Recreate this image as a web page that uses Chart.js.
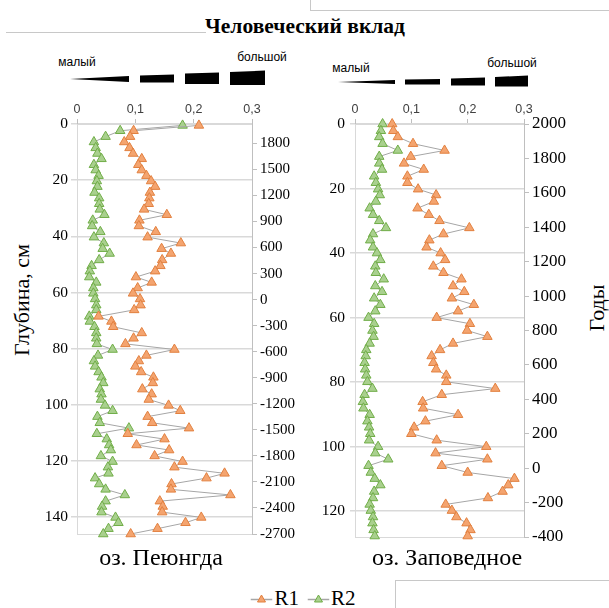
<!DOCTYPE html>
<html>
<head>
<meta charset="utf-8">
<script src="https://cdn.jsdelivr.net/npm/chart.js@4.4.0/dist/chart.umd.min.js"></script>
<style>
  body { margin: 0; background: #fff; }
  #page { position: relative; width: 609px; height: 608px; overflow: hidden; font-family: "Liberation Serif", "Times New Roman", serif; color: #000; }
  .abs { position: absolute; white-space: nowrap; }
  .serif { font-family: "Liberation Serif", "Times New Roman", serif; }
  .sans { font-family: "Liberation Sans", Arial, sans-serif; }
  .hline { position: absolute; height: 1px; background: #c8c8c8; }
  .vline { position: absolute; width: 1px; background: #c8c8c8; }
  canvas { position: absolute; }
</style>
</head>
<body>
<div id="page">
  <!-- page leftovers around the figure -->
  <div class="hline" style="left:6px; top:32px; width:200px;"></div>
  <div class="vline" style="left:310px; top:0; height:10px;"></div>
  <div class="hline" style="left:310px; top:10px; width:299px;"></div>
  <div class="hline" style="left:395px; top:580px; width:214px;"></div>
  <div class="vline" style="left:395px; top:580px; height:28px;"></div>

  <div class="abs serif" style="left:305px; top:26px; transform:translate(-50%,-50%); font-size:21.5px; font-weight:bold;">Человеческий вклад</div>

  <div class="abs sans" style="left:77px; top:62px; transform:translate(-50%,-50%); font-size:12px;">малый</div>
  <div class="abs sans" style="left:262px; top:57px; transform:translate(-50%,-50%); font-size:12px;">большой</div>
  <div class="abs sans" style="left:351px; top:68px; transform:translate(-50%,-50%); font-size:12px;">малый</div>
  <div class="abs sans" style="left:512px; top:63px; transform:translate(-50%,-50%); font-size:12px;">большой</div>

  <svg class="abs" style="left:0; top:0;" width="609" height="100">
    <g fill="#000">
      <polygon points="70,79 129,76 129,82"/>
      <polygon points="140,75.5 174,74.5 174,82.5 140,82.5"/>
      <polygon points="185,73.5 219,72.5 219,84 185,84"/>
      <polygon points="230,72 265,70.5 265,85 230,85"/>
      <polygon points="338,82 395,80 395,84"/>
      <polygon points="405,79.5 440,79 440,84.5 405,84.5"/>
      <polygon points="451,78.5 485,77.5 485,85.5 451,85.5"/>
      <polygon points="495,77 528,75.5 528,86.5 495,86.5"/>
    </g>
  </svg>

  <div class="abs serif" style="left:22px; top:300px; transform:translate(-50%,-50%) rotate(-90deg); font-size:22px;">Глубина, см</div>
  <div class="abs serif" style="left:597px; top:308px; transform:translate(-50%,-50%) rotate(-90deg); font-size:22px;">Годы</div>

  <canvas id="chartLeft" width="305" height="455" style="left:0; top:95px;"></canvas>
  <canvas id="chartRight" width="304" height="470" style="left:305px; top:95px;"></canvas>

  <div class="abs serif" style="left:161px; top:557px; transform:translate(-50%,-50%); font-size:24px;">оз. Пеюнгда</div>
  <div class="abs serif" style="left:447px; top:557px; transform:translate(-50%,-50%); font-size:24px;">оз. Заповедное</div>

  <div id="legend" class="abs serif" style="left:303px; top:598px; transform:translate(-50%,-50%); font-size:21px; display:flex; align-items:center;"></div>
</div>

<script>
// ---- data ----
const xTickLabels = ['0', '0,1', '0,2', '0,3'];
const seriesNames = ['R1', 'R2'];

// оз. Пеюнгда
const depthPeyungda = [0.5, 2.4, 4.5, 6.4, 8.5, 10.5, 12.4, 14.5, 16.4, 18.4, 20.3, 22.3, 24.4, 26.4, 28.4, 30.4, 32.3, 34.3, 36.3, 38.4, 40.3, 42.4, 44.4, 46.1,
  48.4, 50.5, 52.4, 54.5, 56.4, 58.4, 60.3, 62.3, 64.5, 66.2, 68.5, 70.3, 72.2, 74.4, 76.3, 78.3, 80.3, 82.4, 84.4, 86.3, 88.3, 90.2, 92.2, 94.4, 96.2,
  98.1, 100.2, 102.1, 104.2, 106.4, 108.3, 110.3, 112.2, 114.3, 116.1, 118.2, 120.2, 122.2, 124.4, 126.1, 128.2, 130.1, 132.1, 134.3, 136.2, 138.2, 140.1, 142.0, 144.1, 146.0];
const r1Peyungda = [0.209, 0.097, 0.091, 0.081, 0.090, 0.096, 0.111, 0.105, 0.111, 0.119, 0.127, 0.134, 0.125, 0.124, 0.123, 0.115, 0.154, 0.107, 0.106, 0.135, 0.121, 0.178, 0.145, 0.161,
  0.146, 0.143, 0.134, 0.101, 0.128, 0.104, 0.096, 0.108, 0.109, 0.098, 0.037, 0.059, 0.062, 0.111, 0.097, 0.083, 0.167, 0.119, 0.106, 0.100, 0.110, 0.131, 0.130, 0.112, 0.128,
  0.123, 0.157, 0.177, 0.121, 0.129, 0.192, 0.087, 0.150, 0.102, 0.158, 0.133, 0.181, 0.167, 0.253, 0.222, 0.162, 0.161, 0.263, 0.142, 0.147, 0.146, 0.213, 0.186, 0.138, 0.092];
const r2Peyungda = [0.181, 0.074, 0.049, 0.029, 0.032, 0.035, 0.042, 0.029, 0.032, 0.037, 0.034, 0.035, 0.030, 0.038, 0.038, 0.039, 0.047, 0.027, 0.026, 0.040, 0.029, 0.046, 0.044, 0.056,
  0.038, 0.025, 0.022, 0.021, 0.033, 0.028, 0.028, 0.031, 0.033, 0.033, 0.021, 0.022, 0.030, 0.033, 0.033, 0.034, 0.061, 0.036, 0.029, 0.031, 0.037, 0.042, 0.045, 0.039, 0.042,
  0.041, 0.048, 0.061, 0.035, 0.039, 0.089, 0.034, 0.051, 0.055, 0.058, 0.041, 0.061, 0.053, 0.054, 0.031, 0.038, 0.049, 0.082, 0.049, 0.043, 0.042, 0.066, 0.071, 0.054, 0.045];
const yearTicksPeyungda = [1800, 1500, 1200, 900, 600, 300, 0, -300, -600, -900, -1200, -1500, -1800, -2100, -2400, -2700];

// оз. Заповедное
const depthZapovednoe = [0, 2.1, 4.0, 6.1, 8.2, 10.1, 12.2, 14.1, 16.2, 18.2, 20.2, 22.0, 24.0, 26.1, 28.1, 30.0, 32.2, 34.1, 36.0, 38.2, 40.0,
  42.1, 44.1, 46.1, 48.1, 50.2, 52.0, 54.0, 56.0, 58.0, 60.0, 61.9, 64.0, 65.9, 68.0, 70.0, 71.9, 74.0, 76.0, 77.9, 79.9, 82.0, 83.9,
  86.1, 88.1, 90.1, 92.1, 94.0, 96.0, 98.0, 100.0, 102.0, 103.9, 105.9, 108.0, 109.9, 111.9, 113.9, 115.9, 117.9, 119.8, 121.8, 123.7, 125.8, 127.7];
const r1Zapovednoe = [0.066, 0.068, 0.076, 0.103, 0.159, 0.099, 0.087, 0.122, 0.093, 0.093, 0.112, 0.144, 0.140, 0.111, 0.131, 0.150, 0.203, 0.157, 0.132, 0.127, 0.152,
  0.160, 0.139, 0.157, 0.189, 0.174, 0.194, 0.172, 0.211, 0.183, 0.145, 0.204, 0.199, 0.235, 0.174, 0.151, 0.136, 0.139, 0.144, 0.162, 0.162, 0.249, 0.154,
  0.120, 0.121, 0.183, 0.125, 0.105, 0.100, 0.145, 0.233, 0.143, 0.235, 0.154, 0.200, 0.283, 0.272, 0.262, 0.236, 0.161, 0.172, 0.180, 0.198, 0.205, 0.200];
const r2Zapovednoe = [0.049, 0.046, 0.043, 0.049, 0.076, 0.043, 0.043, 0.048, 0.034, 0.037, 0.041, 0.044, 0.037, 0.026, 0.032, 0.043, 0.055, 0.032, 0.027, 0.032, 0.039,
  0.045, 0.036, 0.037, 0.051, 0.036, 0.048, 0.034, 0.045, 0.036, 0.024, 0.034, 0.031, 0.033, 0.026, 0.020, 0.019, 0.017, 0.018, 0.020, 0.022, 0.031, 0.017,
  0.014, 0.015, 0.026, 0.022, 0.025, 0.027, 0.025, 0.041, 0.036, 0.059, 0.024, 0.028, 0.035, 0.045, 0.034, 0.032, 0.026, 0.028, 0.032, 0.031, 0.033, 0.035];
const yearTicksZapovednoe = [2000, 1800, 1600, 1400, 1200, 1000, 800, 600, 400, 200, 0, -200, -400];

// ---- styles ----
const orangeFill = '#f4a46f', orangeEdge = '#e2803f';
const greenFill = '#a9d08e', greenEdge = '#70ad47';
const lineGray = '#a6a6a6';
const gridGray = '#d9d9d9';
const serifFont = '"Liberation Serif", "Times New Roman", serif';
const sansFont = '"Liberation Sans", Arial, sans-serif';

Chart.defaults.animation = false;
Chart.defaults.devicePixelRatio = 1;

// bottom edge of the plot frame
const frameLine = {
  id: 'frameLine',
  beforeDatasetsDraw(chart) {
    const a = chart.chartArea;
    const ctx = chart.ctx;
    ctx.save();
    ctx.strokeStyle = gridGray;
    ctx.lineWidth = 1;
    ctx.beginPath();
    ctx.moveTo(a.left, Math.round(a.bottom) + 0.5);
    ctx.lineTo(a.right, Math.round(a.bottom) + 0.5);
    ctx.stroke();
    ctx.restore();
  }
};

function toPoints(xs, ys) {
  return xs.map((v, i) => ({ x: v, y: ys[i] }));
}

function series(label, xs, ys, fill, edge) {
  return {
    label: label,
    data: toPoints(xs, ys),
    showLine: true,
    borderColor: lineGray,
    borderWidth: 1,
    pointStyle: 'triangle',
    pointRadius: 5.5,
    pointBackgroundColor: fill,
    pointBorderColor: edge,
    pointBorderWidth: 1,
    clip: false
  };
}

function makePanel(id, depth, r1, r2, cfg) {
  const ctx = document.getElementById(id);
  return new Chart(ctx, {
    type: 'scatter',
    data: {
      datasets: [
        series(seriesNames[0], r1, depth, orangeFill, orangeEdge),
        series(seriesNames[1], r2, depth, greenFill, greenEdge)
      ]
    },
    plugins: [frameLine],
    options: {
      responsive: false,
      layout: { padding: { left: 0, right: 0, top: 0, bottom: cfg.padBottom } },
      plugins: { legend: { display: false }, tooltip: { enabled: false } },
      scales: {
        x: {
          type: 'linear', position: 'top', min: 0, max: 0.3,
          afterFit: s => { s.height = cfg.topH; },
          grid: { drawOnChartArea: false, drawTicks: true, tickLength: 5, color: '#bfbfbf' },
          border: { display: true, color: gridGray },
          ticks: {
            stepSize: 0.1, padding: 2, color: '#404040',
            font: { family: sansFont, size: 12.5 },
            callback: (v, i) => xTickLabels[i]
          }
        },
        y: {
          type: 'linear', position: 'left', reverse: true, min: 0, max: cfg.depthMax,
          afterFit: s => { s.width = cfg.leftW; },
          grid: { color: gridGray, lineWidth: 1.5, drawTicks: true, tickLength: cfg.tickL },
          border: { display: true, color: gridGray },
          ticks: {
            stepSize: 20, includeBounds: false, padding: cfg.padL, color: '#000',
            font: { family: serifFont, size: cfg.depthFont }
          }
        },
        yr: {
          type: 'linear', position: 'right', min: cfg.yearMin, max: cfg.yearMax,
          afterFit: s => { s.width = cfg.rightW; },
          afterBuildTicks: s => { s.ticks = cfg.yearTicks.map(v => ({ value: v })); },
          grid: { drawOnChartArea: false, drawTicks: true, tickLength: 5, color: '#bfbfbf' },
          border: { display: true, color: '#bfbfbf' },
          ticks: {
            padding: 3, color: '#000',
            font: { family: serifFont, size: cfg.yearFont },
            callback: v => String(v)
          }
        }
      }
    }
  });
}

// plot area: x 77..252, y 124..534 on the page
makePanel('chartLeft', depthPeyungda, r1Peyungda, r2Peyungda, {
  topH: 29, leftW: 77, rightW: 53, padBottom: 16, depthMax: 146,
  yearMin: -2700, yearMax: 2023, yearTicks: yearTicksPeyungda,
  tickL: 6, padL: 3, depthFont: 15.5, yearFont: 15
});

// plot area: x 355..519, y 124..537 on the page
makePanel('chartRight', depthZapovednoe, r1Zapovednoe, r2Zapovednoe, {
  topH: 29, leftW: 50, rightW: 85, padBottom: 28, depthMax: 128,
  yearMin: -400, yearMax: 2000, yearTicks: yearTicksZapovednoe,
  tickL: 5, padL: 5, depthFont: 15.5, yearFont: 17
});

// legend
const legend = document.getElementById('legend');
[[orangeFill, orangeEdge], [greenFill, greenEdge]].forEach((c, i) => {
  const item = document.createElement('span');
  item.style.display = 'flex';
  item.style.alignItems = 'center';
  item.style.marginRight = i === 0 ? '8px' : '0';
  item.innerHTML =
    '<svg width="22" height="14" style="margin-right:2px">' +
    '<line x1="0" y1="8" x2="22" y2="8" stroke="' + lineGray + '" stroke-width="1.5"/>' +
    '<polygon points="11,3.5 15,10.5 7,10.5" fill="' + c[0] + '" stroke="' + c[1] + '" stroke-width="1"/>' +
    '</svg><span>' + seriesNames[i] + '</span>';
  legend.appendChild(item);
});
</script>
</body>
</html>
